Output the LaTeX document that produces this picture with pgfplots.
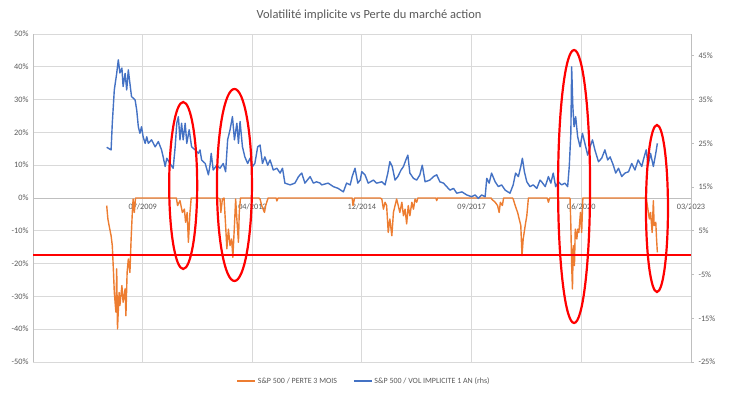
\documentclass[border=0pt]{standalone}
\usepackage{fontspec}
\setmainfont{Carlito}
\usepackage{pgfplots}
\pgfplotsset{compat=1.18}
\definecolor{ora}{HTML}{ED7D31}
\definecolor{blu}{HTML}{4472C4}
\definecolor{grd}{HTML}{D9D9D9}
\definecolor{axl}{HTML}{BFBFBF}
\definecolor{txt}{HTML}{595959}

\pgfplotstableread{
x y
2008.59 -2.3
2008.62 -6.4
2008.65 -8.4
2008.70 -11.5
2008.73 -14.5
2008.76 -22.7
2008.78 -28.8
2008.82 -34.8
2008.84 -21.6
2008.86 -39.9
2008.90 -28.8
2008.92 -32.8
2008.97 -26.7
2009.00 -31.8
2009.05 -27.7
2009.07 -35.9
2009.10 -22.7
2009.13 -18.6
2009.17 -22.7
2009.20 -12.5
2009.23 -4.4
2009.25 -0.3
2009.28 -4.4
2009.31 0
2010.33 0
2010.36 -2.3
2010.42 -0.8
2010.48 -4.4
2010.53 -3.4
2010.56 -7.4
2010.60 -4.4
2010.63 -13.5
2010.67 -4.4
2010.70 0
2011.37 0
2011.42 -0.3
2011.44 -4.4
2011.48 -0.3
2011.52 0
2011.56 -8.4
2011.59 -15.5
2011.63 -9.5
2011.67 -14.5
2011.71 -12.5
2011.74 -18.1
2011.78 -8.4
2011.81 -0.3
2011.84 -6.4
2011.88 -13.5
2011.90 -4.4
2011.93 0
2012.39 0
2012.42 -0.3
2012.46 -2.3
2012.53 -4.4
2012.56 -2.3
2012.62 0
2012.82 0
2012.84 -0.9
2012.87 0
2014.72 0
2014.74 -2.3
2014.78 0
2015.42 0
2015.46 -0.3
2015.50 -3.4
2015.54 -1.3
2015.58 -2.3
2015.62 -10.5
2015.66 -6.4
2015.71 -11.5
2015.75 -4.4
2015.79 -2.3
2015.83 -0.3
2015.87 -2.3
2015.91 -4.4
2015.96 -1.3
2016.00 -5.4
2016.04 -3.4
2016.08 -7.9
2016.12 -2.3
2016.16 -5.4
2016.21 -1.3
2016.25 -3.4
2016.29 -0.3
2016.33 -1.3
2016.36 0
2016.81 0
2016.83 -0.8
2016.85 0
2018.19 0
2018.20 -0.3
2018.29 -1.3
2018.35 -2.3
2018.39 -4.4
2018.42 -1.3
2018.47 -2.3
2018.50 0
2018.72 0
2018.74 -0.3
2018.79 -2.3
2018.85 -4.4
2018.89 -6.4
2018.93 -8.4
2018.96 -17.6
2018.99 -12.5
2019.04 -8.4
2019.08 -5.4
2019.12 0
2019.59 0
2019.62 -1.3
2019.65 0
2020.15 0
2020.16 -0.3
2020.18 -8.4
2020.20 -20.6
2020.22 -27.7
2020.24 -14.5
2020.27 -20.6
2020.29 -9.5
2020.33 -12.5
2020.35 -9.5
2020.38 -10.5
2020.42 -4.4
2020.45 -10.5
2020.48 0
2022.06 0
2022.09 -2.3
2022.14 -6.4
2022.17 -4.4
2022.21 -10.5
2022.24 -0.8
2022.26 -8.4
2022.30 -7.4
2022.32 -12.5
2022.34 -16.6
}\perte

\pgfplotstableread{
x y
2008.59 24.1
2008.70 23.5
2008.73 29.6
2008.78 37.2
2008.84 41.0
2008.88 44.1
2008.92 41.1
2008.97 42.2
2009.00 38.0
2009.05 41.0
2009.09 37.2
2009.13 41.8
2009.17 38.7
2009.21 35.7
2009.30 34.9
2009.34 32.6
2009.38 28.8
2009.42 27.3
2009.46 28.8
2009.50 26.5
2009.55 25.0
2009.59 26.5
2009.63 25.0
2009.71 25.8
2009.80 24.2
2009.88 25.4
2009.96 23.5
2010.00 21.9
2010.05 19.7
2010.09 21.6
2010.17 20.4
2010.25 19.3
2010.30 24.2
2010.34 29.6
2010.38 31.1
2010.42 25.8
2010.46 29.6
2010.50 25.8
2010.55 29.6
2010.59 25.0
2010.65 28.1
2010.71 24.2
2010.80 23.5
2010.88 22.7
2010.92 23.5
2010.96 21.2
2011.05 20.4
2011.13 17.8
2011.17 20.0
2011.20 22.7
2011.25 18.9
2011.34 20.0
2011.42 19.3
2011.50 20.4
2011.56 18.5
2011.61 25.8
2011.67 28.1
2011.73 31.1
2011.78 25.8
2011.84 29.6
2011.88 25.0
2011.92 30.0
2011.98 24.2
2012.04 21.9
2012.11 20.4
2012.17 21.6
2012.23 19.7
2012.29 20.4
2012.36 24.2
2012.42 24.6
2012.48 20.4
2012.54 21.9
2012.61 20.0
2012.67 21.2
2012.75 18.9
2012.84 19.3
2012.92 18.2
2012.98 19.3
2013.04 15.9
2013.17 15.5
2013.29 15.9
2013.38 17.4
2013.46 18.2
2013.54 15.9
2013.67 17.4
2013.75 15.9
2013.83 16.2
2013.92 15.9
2013.96 15.5
2014.12 15.9
2014.25 15.1
2014.37 14.7
2014.50 13.9
2014.58 15.9
2014.67 15.5
2014.72 17.4
2014.79 19.3
2014.86 15.9
2014.92 16.6
2014.96 18.5
2015.04 17.8
2015.12 15.9
2015.25 16.6
2015.33 15.9
2015.46 16.2
2015.54 15.5
2015.61 18.2
2015.66 20.8
2015.72 19.7
2015.79 16.6
2015.86 17.4
2015.94 18.9
2016.00 19.7
2016.06 21.2
2016.11 22.3
2016.16 18.2
2016.25 17.0
2016.33 16.6
2016.41 17.8
2016.47 20.0
2016.54 16.2
2016.66 16.6
2016.75 17.4
2016.83 17.8
2016.91 16.2
2017.00 15.9
2017.08 15.1
2017.16 14.3
2017.25 14.7
2017.33 13.6
2017.46 13.9
2017.58 13.2
2017.70 12.8
2017.79 13.2
2017.87 12.4
2017.95 13.2
2018.04 12.8
2018.08 17.0
2018.14 15.9
2018.20 18.2
2018.29 16.2
2018.37 15.1
2018.45 15.5
2018.54 14.3
2018.66 13.6
2018.74 15.5
2018.80 18.2
2018.87 17.4
2018.93 19.7
2018.97 21.6
2019.02 18.5
2019.08 16.2
2019.16 15.1
2019.24 15.5
2019.33 14.7
2019.41 16.6
2019.45 16.2
2019.54 15.1
2019.62 17.4
2019.68 15.9
2019.74 18.2
2019.80 15.1
2019.87 16.2
2019.95 15.5
2020.03 15.9
2020.10 15.1
2020.14 19.7
2020.18 27.3
2020.20 42.5
2020.23 33.4
2020.26 28.8
2020.30 31.1
2020.35 26.5
2020.41 24.2
2020.47 27.3
2020.53 25.0
2020.60 22.3
2020.66 24.2
2020.72 25.8
2020.78 23.5
2020.87 20.8
2020.95 21.6
2021.03 23.5
2021.10 21.2
2021.16 21.9
2021.24 20.0
2021.30 18.2
2021.37 19.3
2021.45 17.4
2021.53 18.2
2021.62 18.5
2021.70 20.4
2021.78 18.9
2021.86 21.2
2021.95 19.7
2021.99 21.2
2022.06 23.5
2022.11 20.0
2022.17 22.7
2022.24 19.7
2022.30 22.7
2022.34 25.0
}\vol

\begin{document}
\begin{tikzpicture}[x=1bp,y=1bp]
\begin{axis}[
  at={(0,0)}, anchor=south west,
  scale only axis, width=658bp, height=328bp,
  xmin=2006.75, xmax=2023.18,
  ymin=-50, ymax=50,
  ytick={-50,-40,...,50},
  /pgf/number format/assume math mode=true,
  yticklabel={\pgfmathprintnumber{\tick}\%},
  xtick={2006.75,2009.49,2012.23,2014.96,2017.70,2020.44,2023.18},
  xticklabels={10/2006,07/2009,04/2012,12/2014,09/2017,06/2020,03/2023},
  axis y line*=left,
  axis x line*=middle,
  axis line style={draw=axl, line width=0.8bp},
  grid=major,
  major grid style={draw=grd, line width=0.8bp},
  tick style={draw=none},
  ticklabel style={font=\fontsize{8.3}{9}\selectfont, text=txt},
  xticklabel style={yshift=-2bp},
  yticklabel style={xshift=-1bp},
]
\addplot[ora, line width=1.4bp, line join=round] table[x=x,y=y] {\perte};
\end{axis}
\begin{axis}[
  at={(0,0)}, anchor=south west,
  scale only axis, width=658bp, height=328bp,
  xmin=2006.75, xmax=2023.18,
  ymin=-25, ymax=50,
  ytick={-25,-15,...,45},
  /pgf/number format/assume math mode=true,
  yticklabel={\pgfmathprintnumber{\tick}\%},
  axis y line*=right,
  axis x line=none,
  axis line style={draw=axl, line width=0.8bp},
  tick align=outside,
  major tick length=3bp,
  ytick style={draw=axl, line width=0.8bp},
  ticklabel style={font=\fontsize{8.3}{9}\selectfont, text=txt},
  yticklabel style={xshift=1bp},
  legend columns=2,
  legend style={at={(0.503,-0.058)}, anchor=center, draw=none, fill=none,
    font=\fontsize{8}{9}\selectfont, text=txt,
    /tikz/every even column/.append style={column sep=14bp}},
  legend image code/.code={\draw[#1] (0bp,0bp) -- (18bp,0bp);},
]
\addlegendimage{ora, line width=1.5bp}
\addlegendentry{S\&P 500 / PERTE 3 MOIS}
\addplot[blu, line width=1.4bp, line join=round] table[x=x,y=y] {\vol};
\addlegendentry{S\&P 500 / VOL IMPLICITE 1 AN (rhs)}
\draw[red, line width=1.6bp] (axis cs:2006.75,-0.5) -- (axis cs:2023.18,-0.5);
\draw[red, line width=2.2bp] (axis cs:2010.50,15.36) ellipse [x radius=14bp, y radius=83.5bp];
\draw[red, line width=2.2bp] (axis cs:2011.78,15.48) ellipse [x radius=17.5bp, y radius=96bp];
\draw[red, line width=2.2bp] (axis cs:2020.26,15.13) ellipse [x radius=16bp, y radius=136.5bp];
\draw[red, line width=2.2bp] (axis cs:2022.33,10.10) ellipse [x radius=11bp, y radius=83.5bp];
\end{axis}
\node[text=txt, font=\fontsize{12.5}{14}\selectfont] at (336bp,347bp) {Volatilité implicite vs Perte du marché action};
\pgfresetboundingbox
\path (-33bp,-35bp) rectangle (705bp,362bp);
\end{tikzpicture}
\end{document}
